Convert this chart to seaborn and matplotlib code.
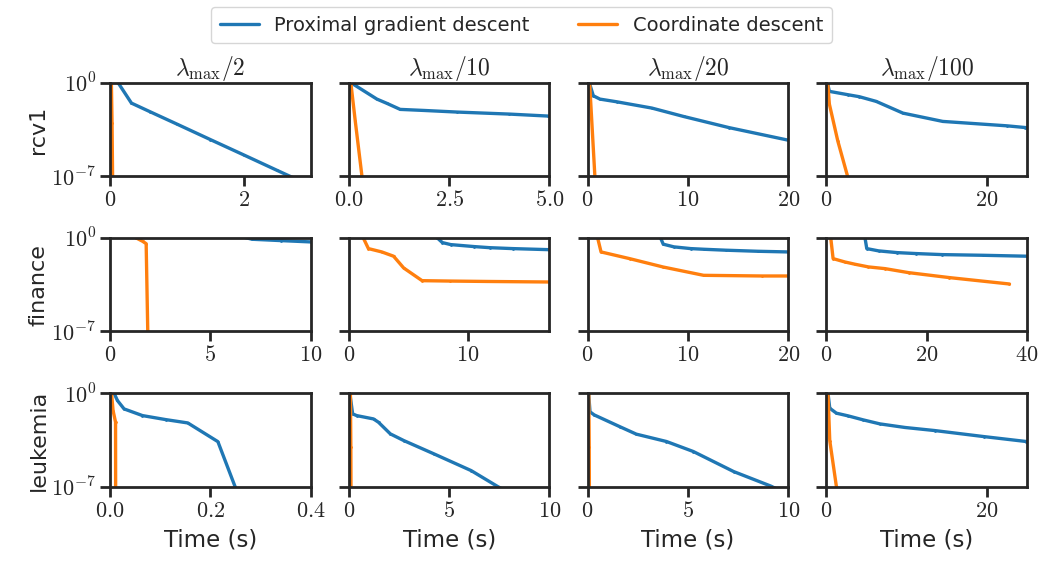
import numpy as np
import pandas as pd
import matplotlib
matplotlib.use("Agg")
import matplotlib.pyplot as plt
import seaborn as sns
from matplotlib.ticker import NullLocator

# ---------------- data (suboptimality stored as log10 values) ----------------
datasets = ["rcv1", "finance", "leukemia"]
lambda_divs = [2, 10, 20, 100]
solvers = ["Proximal gradient descent", "Coordinate descent"]

# rcv1
rcv1_2_pgd_t = [0.0, 0.12, 0.32, 0.6, 1.0, 1.5, 2.0, 2.5, 3.0]
rcv1_2_pgd_y = [0.8, 0.0, -1.53, -2.18, -3.10, -4.26, -5.41, -6.57, -7.72]
rcv1_2_cd_t = [0.0, 0.02, 0.03, 0.04]
rcv1_2_cd_y = [0.8, 0.0, -3.0, -8.0]

rcv1_10_pgd_t = [0.0, 0.05, 0.7, 0.95, 1.28, 1.88, 2.7, 3.99, 4.97, 5.2]
rcv1_10_pgd_y = [0.5, 0.0, -1.23, -1.55, -2.0, -2.08, -2.2, -2.35, -2.5, -2.52]
rcv1_10_cd_t = [0.0, 0.05, 0.16, 0.33, 0.36]
rcv1_10_cd_y = [0.5, 0.0, -2.86, -7.07, -7.6]

rcv1_20_pgd_t = [0.0, 0.17, 0.57, 1.23, 2.9, 6.4, 9.57, 14.07, 19.97]
rcv1_20_pgd_y = [0.5, 0.0, -0.98, -1.23, -1.43, -1.9, -2.53, -3.36, -4.3]
rcv1_20_cd_t = [0.0, 0.2, 0.73, 0.8]
rcv1_20_cd_y = [0.5, 0.0, -7.07, -8.0]

rcv1_100_pgd_t = [0.0, 0.17, 0.37, 2.67, 4.1, 6.2, 9.54, 14.5, 22.5, 24.8, 26.0]
rcv1_100_pgd_y = [0.5, -0.1, -0.65, -0.9, -1.05, -1.4, -2.28, -2.9, -3.23, -3.36, -3.42]
rcv1_100_cd_t = [0.0, 0.17, 0.37, 1.42, 2.67, 2.9]
rcv1_100_cd_y = [0.5, 0.0, -1.6, -4.36, -7.07, -7.7]

# finance
finance_2_pgd_t = [6.0, 7.08, 8.5, 10.0, 10.5]
finance_2_pgd_y = [0.3, -0.1, -0.2, -0.3, -0.33]
finance_2_cd_t = [0.8, 1.3, 1.62, 1.8, 1.88, 1.9]
finance_2_cd_y = [0.4, 0.0, -0.25, -0.43, -7.0, -8.0]

finance_10_pgd_t = [7.3, 7.45, 7.88, 8.58, 10.57, 11.85, 13.8, 16.86, 17.5]
finance_10_pgd_y = [0.3, 0.0, -0.35, -0.5, -0.65, -0.73, -0.8, -0.88, -0.9]
finance_10_cd_t = [1.0, 1.22, 1.65, 2.78, 3.77, 4.62, 6.17, 8.53, 11.7, 16.9, 17.5]
finance_10_cd_y = [0.5, 0.0, -0.8, -1.05, -1.37, -2.25, -3.2, -3.23, -3.26, -3.3, -3.3]

finance_20_pgd_t = [7.2, 7.27, 7.54, 8.6, 10.28, 11.6, 13.77, 16.95, 20.0, 20.5]
finance_20_pgd_y = [0.3, 0.0, -0.47, -0.67, -0.8, -0.85, -0.92, -1.0, -1.05, -1.06]
finance_20_cd_t = [0.8, 1.0, 1.34, 4.18, 7.54, 11.56, 17.4, 20.0, 20.5]
finance_20_cd_y = [0.5, 0.0, -1.05, -1.55, -2.18, -2.8, -2.85, -2.85, -2.85]

finance_100_pgd_t = [7.6, 7.7, 8.05, 10.4, 14.1, 17.8, 23.1, 31.2, 40.0, 41.0]
finance_100_pgd_y = [0.3, 0.0, -0.8, -0.97, -1.1, -1.17, -1.25, -1.3, -1.37, -1.38]
finance_100_cd_t = [0.7, 0.87, 1.34, 3.68, 5.7, 8.37, 11.7, 16.4, 24.5, 36.5]
finance_100_cd_y = [0.5, 0.0, -1.55, -1.8, -1.97, -2.17, -2.3, -2.6, -2.97, -3.45]

# leukemia
leukemia_2_pgd_t = [0.0, 0.008, 0.0147, 0.028, 0.0647, 0.111, 0.155, 0.215, 0.25, 0.26]
leukemia_2_pgd_y = [0.5, 0.0, -0.55, -1.18, -1.68, -1.98, -2.23, -3.63, -7.07, -7.8]
leukemia_2_cd_t = [0.0, 0.003, 0.006, 0.011, 0.0112]
leukemia_2_cd_y = [0.5, 0.0, -1.3, -2.17, -8.0]

leukemia_10_pgd_t = [0.0, 0.05, 0.19, 0.39, 1.23, 1.48, 2.07, 2.74, 4.25, 6.1, 7.43, 7.8]
leukemia_10_pgd_y = [0.5, 0.0, -1.55, -1.68, -1.93, -2.18, -3.05, -3.55, -4.55, -5.8, -7.0, -7.3]
leukemia_10_cd_t = [0.0, 0.08, 0.1, 0.11]
leukemia_10_cd_y = [0.5, 0.0, -4.0, -8.0]

leukemia_20_pgd_t = [0.0, 0.05, 0.12, 0.33, 1.59, 2.43, 3.93, 5.27, 7.28, 9.12, 9.6]
leukemia_20_pgd_y = [0.5, 0.0, -1.4, -1.63, -2.5, -3.07, -3.62, -4.37, -5.87, -6.95, -7.3]
leukemia_20_cd_t = [0.0, 0.06, 0.08, 0.09]
leukemia_20_cd_y = [0.5, 0.0, -4.0, -8.0]

leukemia_100_pgd_t = [0.0, 0.2, 0.42, 1.25, 2.7, 4.58, 6.66, 9.8, 13.5, 19.6, 24.9, 26.0]
leukemia_100_pgd_y = [0.5, 0.0, -1.13, -1.5, -1.7, -2.0, -2.3, -2.57, -2.8, -3.25, -3.62, -3.7]
leukemia_100_cd_t = [0.0, 0.2, 0.42, 1.25, 1.4]
leukemia_100_cd_y = [0.5, 0.0, -3.55, -7.0, -7.7]

xlims = {
    "rcv1": [3, 5, 20, 25],
    "finance": [10, 16.9, 20, 40],
    "leukemia": [0.4, 10, 10, 25],
}
xticks = {
    "rcv1": [[0, 2], [0.0, 2.5, 5.0], [0, 10, 20], [0, 20]],
    "finance": [[0, 5, 10], [0, 10], [0, 10, 20], [0, 20, 40]],
    "leukemia": [[0.0, 0.2, 0.4], [0, 5, 10], [0, 5, 10], [0, 20]],
}
xtick_fmt = {
    "rcv1": ["{:.0f}", "{:.1f}", "{:.0f}", "{:.0f}"],
    "finance": ["{:.0f}", "{:.0f}", "{:.0f}", "{:.0f}"],
    "leukemia": ["{:.1f}", "{:.0f}", "{:.0f}", "{:.0f}"],
}

# ---------------- build table ----------------
rows = []
g = globals()
for ds in datasets:
    for ld in lambda_divs:
        for key, solver in zip(["pgd", "cd"], solvers):
            ts = g[f"{ds}_{ld}_{key}_t"]
            ys = g[f"{ds}_{ld}_{key}_y"]
            for i, (t, y) in enumerate(zip(ts, ys)):
                rows.append(dict(dataset=ds, lam=ld, solver=solver,
                                 time=t, subopt=10.0 ** y, order=i))
df = pd.DataFrame(rows)

# ---------------- style ----------------
sns.set_style("ticks")
plt.rcParams["font.family"] = ["DejaVu Sans"]
plt.rcParams["mathtext.fontset"] = "cm"
plt.rcParams["axes.edgecolor"] = "#262626"
plt.rcParams["axes.linewidth"] = 2.0
plt.rcParams["xtick.major.width"] = 2.0
plt.rcParams["ytick.major.width"] = 2.0
plt.rcParams["xtick.major.size"] = 7
plt.rcParams["ytick.major.size"] = 7

palette = {solvers[0]: "#1f77b4", solvers[1]: "#ff7f0e"}

fig, axes = plt.subplots(3, 4, figsize=(10.43, 5.69), dpi=100)
fig.subplots_adjust(left=0.1055, right=0.9847, top=0.8547, bottom=0.1447,
                    wspace=0.19, hspace=0.66)

for r, ds in enumerate(datasets):
    for c, ld in enumerate(lambda_divs):
        ax = axes[r, c]
        sub = df[(df.dataset == ds) & (df.lam == ld)]
        sns.lineplot(data=sub, x="time", y="subopt", hue="solver",
                     hue_order=solvers, palette=palette, sort=False,
                     estimator=None, units="solver", marker=".",
                     markersize=4, markeredgewidth=0, linewidth=2.4,
                     legend=(r == 0 and c == 0), ax=ax)
        ax.set_yscale("log")
        ax.set_ylim(1e-7, 1e0)
        ax.set_yticks([1e-7, 1e0])
        ax.yaxis.set_minor_locator(NullLocator())
        if c == 0:
            ax.set_yticklabels([r"$10^{-7}$", r"$10^{0}$"], fontsize=16)
            ax.set_ylabel(ds, fontsize=16, labelpad=2)
        else:
            ax.set_yticklabels([])
            ax.set_ylabel("")
        ax.set_xlim(0, xlims[ds][c])
        tk = xticks[ds][c]
        ax.set_xticks(tk)
        fmt = xtick_fmt[ds][c]
        ax.set_xticklabels([f"${fmt.format(v)}$" for v in tk], fontsize=16)
        ax.tick_params(axis="both", pad=3, colors="#262626")
        if r == 2:
            ax.set_xlabel("Time (s)", fontsize=16.5, labelpad=6)
        else:
            ax.set_xlabel("")
        if r == 0:
            ax.set_title(r"$\lambda_{\max}/%d$" % ld, fontsize=17, pad=2)
        for sp in ax.spines.values():
            sp.set_visible(True)

handles, labels = axes[0, 0].get_legend_handles_labels()
axes[0, 0].get_legend().remove()
fig.legend(handles, labels, loc="upper center", ncol=2,
           bbox_to_anchor=(0.5, 1.005), fontsize=14, frameon=True,
           handlelength=2.0, columnspacing=2.5, borderpad=0.45)

fig.savefig("out.png", dpi=100)
